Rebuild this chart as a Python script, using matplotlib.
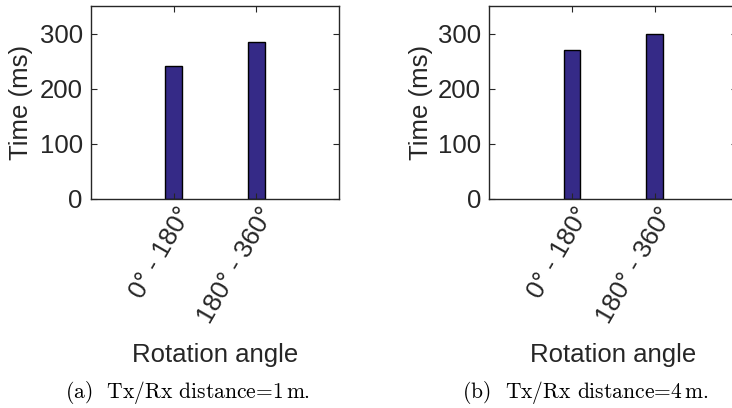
import matplotlib.pyplot as plt
from matplotlib.transforms import ScaledTranslation

### data
angle_labels = ["0° - 180°", "180° - 360°"]
time_1m = [242, 286]
time_4m = [271, 300]
captions = ["(a)  Tx/Rx distance=1$\\,$m.", "(b)  Tx/Rx distance=4$\\,$m."]

plt.rcParams['font.family'] = ['Liberation Sans', 'DejaVu Sans']
plt.rcParams['mathtext.fontset'] = 'cm'

bar_color = '#352a87'
txt_color = '#262626'

fig = plt.figure(figsize=(7.32, 4.08), dpi=100)

positions = [[0.1243, 0.5123, 0.3388, 0.4718],
             [0.6685, 0.5123, 0.3388, 0.4718]]
ylabel_x = [-0.234, -0.228]
caption_x = [0.256, 0.800]
fs = 18.5

for i, values in enumerate([time_1m, time_4m]):
    ax = fig.add_axes(positions[i])
    x = list(range(1, len(values) + 1))
    ax.bar(x, values, width=0.2, color=bar_color, edgecolor='black', linewidth=1.0)
    ax.set_xlim(0, 3)
    ax.set_ylim(0, 350)
    ax.set_yticks([0, 100, 200, 300])
    ax.set_xticks(x)
    ax.set_xticklabels(angle_labels, rotation=60, ha='right', va='center',
                       rotation_mode='anchor')
    ax.tick_params(direction='in', length=4, width=0.8, top=True, right=True,
                   labelsize=fs, colors=txt_color, pad=6)
    # shift the rotated labels a bit (right and down)
    for lab in ax.get_xticklabels():
        lab.set_transform(lab.get_transform() +
                          ScaledTranslation(9 / 72, -1.5 / 72, fig.dpi_scale_trans))
    for sp in ax.spines.values():
        sp.set_color(txt_color)
        sp.set_linewidth(1.0)
    ax.set_ylabel("Time (ms)", fontsize=fs, color=txt_color)
    ax.yaxis.set_label_coords(ylabel_x[i], 0.5)
    ax.set_xlabel("Rotation angle", fontsize=fs, color=txt_color)
    ax.xaxis.set_label_coords(0.5, -0.746)
    fig.text(caption_x[i], 0.025, captions[i], ha='center', va='baseline',
             fontsize=15.5, family='cmr10')

plt.savefig('out.png', dpi=100)
